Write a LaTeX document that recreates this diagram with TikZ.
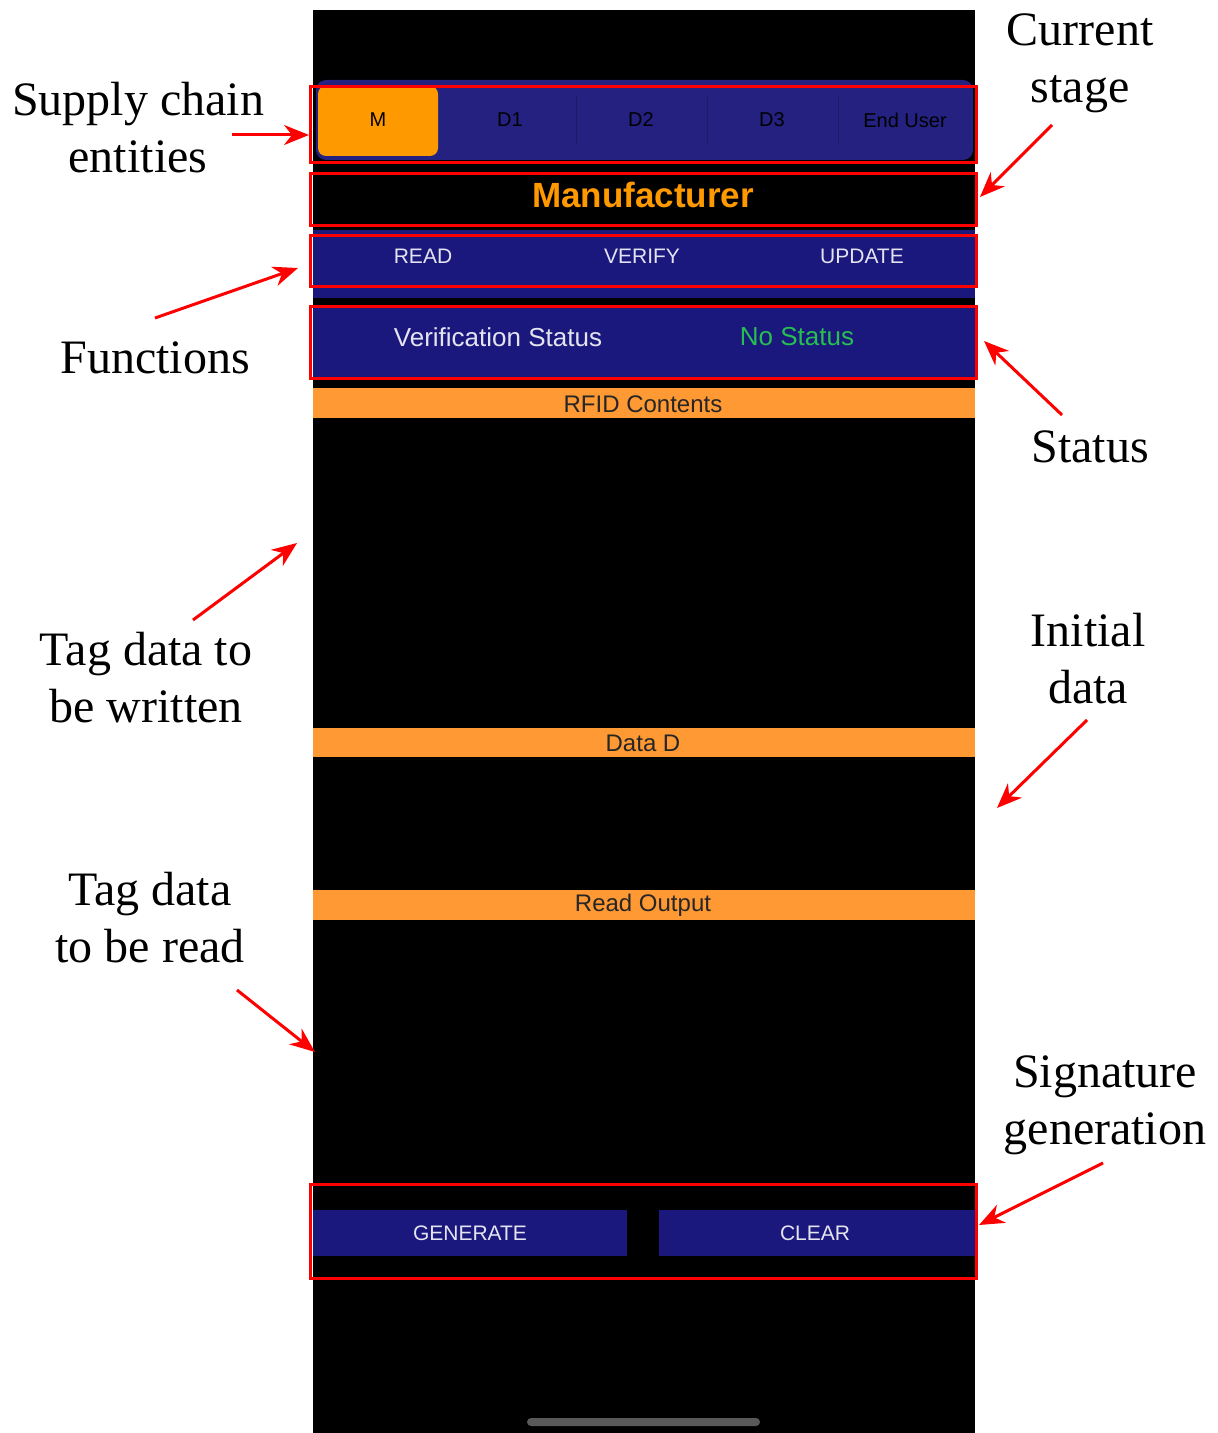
\documentclass[tikz,border=0pt]{standalone}
\usepackage{fontspec}
\setmainfont{Liberation Serif}
\newfontfamily\uifont{Liberation Sans}
\usetikzlibrary{arrows.meta}
\definecolor{appnavy}{RGB}{27,24,125}
\definecolor{tabnavy}{RGB}{36,33,128}
\definecolor{taborange}{RGB}{255,153,0}
\definecolor{barorange}{RGB}{255,153,51}
\definecolor{uiwhite}{RGB}{228,228,240}
\definecolor{okgreen}{RGB}{40,190,80}
\definecolor{hilite}{RGB}{255,0,0}
\tikzset{
  note/.style={font=\fontsize{24}{28.5}\selectfont, align=center, text=black, inner sep=0pt},
  callout/.style={draw=hilite, line width=1.5pt, -{Stealth[length=12.5pt,width=10pt,inset=4pt]}},
  redbox/.style={draw=hilite, line width=1.5pt},
  tablabel/.style={font=\uifont\fontsize{10}{12}\selectfont, text=black, inner sep=0pt},
  fnlabel/.style={font=\uifont\fontsize{10.5}{12}\selectfont, text=uiwhite, inner sep=0pt},
  barlabel/.style={font=\uifont\fontsize{12}{14}\selectfont, text=black!85, inner sep=0pt},
  statlabel/.style={font=\uifont\fontsize{13}{15}\selectfont, inner sep=0pt},
}
\begin{document}
\begin{tikzpicture}[x=0.5pt,y=-0.5pt]
\useasboundingbox (0,0) rectangle (1217,1433);
% phone screen
\fill[black] (313,10) rectangle (975,1433);
% tab bar with the selected stage
\fill[tabnavy, rounded corners=5pt] (316,80) rectangle (973,160);
\foreach \sx in {576,707,838} \draw[tabnavy!80!black, line width=0.5pt] (\sx,95) -- (\sx,145);
\fill[taborange, rounded corners=4pt] (318,86) rectangle (438,156);
\node[tablabel] (tM) at (378,120) {M};
\node[tablabel] (tD1) at (510,120) {D1};
\node[tablabel] (tD2) at (641,120) {D2};
\node[tablabel] (tD3) at (772,120) {D3};
\node[tablabel] (tEU) at (905,120) {End User};
% stage title
\node[font=\uifont\bfseries\fontsize{17.5}{20}\selectfont, text=taborange, inner sep=0pt] (stage) at (643,195) {Manufacturer};
% function buttons
\fill[appnavy] (313,230) rectangle (975,298);
\node[fnlabel] (fRead) at (423,256) {READ};
\node[fnlabel] (fVerify) at (642,256) {VERIFY};
\node[fnlabel] (fUpdate) at (862,256) {UPDATE};
% verification status
\fill[appnavy] (313,305) rectangle (975,378);
\node[statlabel, text=uiwhite] (vs) at (498,337) {Verification Status};
\node[statlabel, text=okgreen] (ns) at (797,337) {No Status};
% section headers
\fill[barorange] (313,388) rectangle (975,418);
\node[barlabel] (hRfid) at (643,404) {RFID Contents};
\fill[barorange] (313,728) rectangle (975,757);
\node[barlabel] (hData) at (643,743) {Data D};
\fill[barorange] (313,890) rectangle (975,920);
\node[barlabel] (hRead) at (643,905) {Read Output};
% action buttons
\fill[appnavy] (313,1210) rectangle (627,1256);
\fill[appnavy] (659,1210) rectangle (975,1256);
\node[fnlabel] (bGen) at (470,1233) {GENERATE};
\node[fnlabel] (bClr) at (815,1233) {CLEAR};
% home indicator
\fill[black!65, rounded corners=2pt] (527,1418) rectangle (760,1426);
% highlight boxes
\draw[redbox] (310,87) rectangle (976,163);
\draw[redbox] (310,174) rectangle (976,226);
\draw[redbox] (310,236) rectangle (976,287);
\draw[redbox] (310,307) rectangle (976,378);
\draw[redbox] (310,1184) rectangle (976,1278);
% annotations
\node[note] (nSupply) at (138,128) {Supply chain\\entities};
\node[note] (nStage) at (1080,63) {Current\\stage};
\node[note] (nFunc) at (155,358) {Functions};
\node[note] (nStatus) at (1090,447) {Status};
\node[note] (nWrite) at (146,678) {Tag data to\\be written};
\node[note] (nInit) at (1088,659) {Initial\\data};
\node[note] (nRead) at (150,918) {Tag data\\to be read};
\node[note] (nSig) at (1105,1105) {Signature\\generation};
% arrow tails and heads
\coordinate (aSupplyT) at (232,135);  \coordinate (aSupplyH) at (309,135);
\coordinate (aStageT) at (1052,125);  \coordinate (aStageH) at (980,197);
\coordinate (aFuncT) at (155,318);    \coordinate (aFuncH) at (298,268);
\coordinate (aStatusT) at (1062,415); \coordinate (aStatusH) at (984,341);
\coordinate (aWriteT) at (193,620);   \coordinate (aWriteH) at (297,543);
\coordinate (aInitT) at (1087,720);   \coordinate (aInitH) at (997,808);
\coordinate (aReadT) at (237,990);    \coordinate (aReadH) at (315,1052);
\coordinate (aSigT) at (1103,1163);   \coordinate (aSigH) at (979,1225);
\draw[callout] (aSupplyT) -- (aSupplyH);
\draw[callout] (aStageT) -- (aStageH);
\draw[callout] (aFuncT) -- (aFuncH);
\draw[callout] (aStatusT) -- (aStatusH);
\draw[callout] (aWriteT) -- (aWriteH);
\draw[callout] (aInitT) -- (aInitH);
\draw[callout] (aReadT) -- (aReadH);
\draw[callout] (aSigT) -- (aSigH);
\end{tikzpicture}
\end{document}
